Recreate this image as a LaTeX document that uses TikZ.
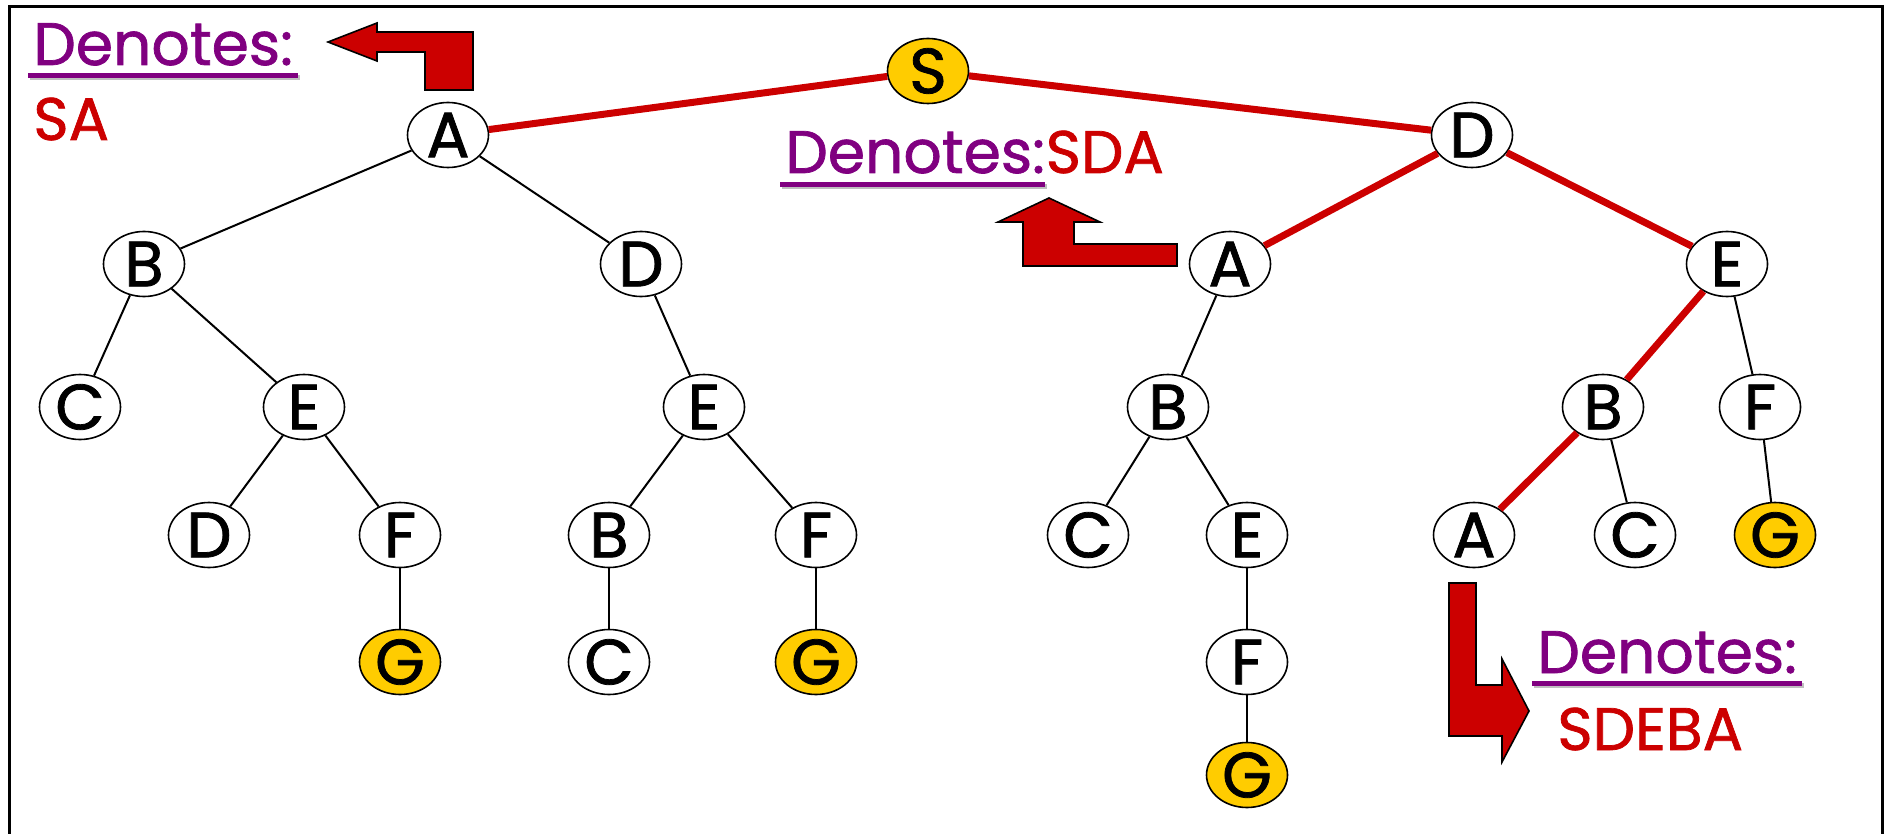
\documentclass[tikz,border=0pt]{standalone}
\usepackage{fontspec}
\setmainfont{Poppins}[FakeBold=1.2]
\usetikzlibrary{shapes.geometric}
\definecolor{pathred}{HTML}{CC0000}
\definecolor{goldfill}{HTML}{FFCC00}
\definecolor{notepurple}{HTML}{800080}

\begin{document}
\begin{tikzpicture}[x=0.5pt,y=-0.5pt,
	st/.style={ellipse,draw,line width=0.8pt,fill=white,minimum width=40.5pt,minimum height=32.5pt,inner sep=0pt,font=\fontsize{32}{32}\selectfont},
	goal/.style={st,fill=goldfill},
	edge/.style={line width=1pt},
	solpath/.style={line width=3.5pt,pathred},
	note/.style={anchor=base west,inner sep=0pt,font=\fontsize{30}{30}\selectfont},
	ul/.style={notepurple,line width=2.5pt},
	ulshade/.style={black!25,line width=2.5pt},
	turn/.style={fill=pathred,draw=black,line width=0.8pt,line join=miter}]
	\useasboundingbox (0,0) rectangle (1888,834);
	\draw[line width=1.5pt] (9,834) -- (9,7) -- (1882,7) -- (1882,834);
	% search tree
	\node[goal] (s) at (928,71){S};
	\node[st] (a) at (448,135){A};
	\node[st] (d) at (1472,135){D};
	\node[st] (ab) at (144,264){B};
	\node[st] (ad) at (641,264){D};
	\node[st] (da) at (1230,264){A};
	\node[st] (de) at (1727,264){E};
	\node[st] (abc) at (80,407){C};
	\node[st] (abe) at (304,407){E};
	\node[st] (ade) at (704,407){E};
	\node[st] (dab) at (1168,407){B};
	\node[st] (deb) at (1603,407){B};
	\node[st] (def) at (1760,407){F};
	\node[st] (abed) at (209,535){D};
	\node[st] (abef) at (400,535){F};
	\node[st] (adeb) at (609,535){B};
	\node[st] (adef) at (816,535){F};
	\node[st] (dabc) at (1088,535){C};
	\node[st] (dabe) at (1247,535){E};
	\node[st] (deba) at (1474,535){A};
	\node[st] (debc) at (1635,535){C};
	\node[goal] (defg) at (1775,535){G};
	\node[goal] (abefg) at (400,662){G};
	\node[st] (adebc) at (609,662){C};
	\node[goal] (adefg) at (816,662){G};
	\node[st] (dabef) at (1247,662){F};
	\node[goal] (dabefg) at (1247,775){G};
	\draw[solpath] (s) -- (a);
	\draw[solpath] (s) -- (d);
	\draw[solpath] (d) -- (da);
	\draw[solpath] (d) -- (de);
	\draw[solpath] (de) -- (deb);
	\draw[solpath] (deb) -- (deba);
	\draw[edge] (a) -- (ab);
	\draw[edge] (a) -- (ad);
	\draw[edge] (ab) -- (abc);
	\draw[edge] (ab) -- (abe);
	\draw[edge] (abe) -- (abed);
	\draw[edge] (abe) -- (abef);
	\draw[edge] (abef) -- (abefg);
	\draw[edge] (ad) -- (ade);
	\draw[edge] (ade) -- (adeb);
	\draw[edge] (ade) -- (adef);
	\draw[edge] (adeb) -- (adebc);
	\draw[edge] (adef) -- (adefg);
	\draw[edge] (da) -- (dab);
	\draw[edge] (dab) -- (dabc);
	\draw[edge] (dab) -- (dabe);
	\draw[edge] (dabe) -- (dabef);
	\draw[edge] (dabef) -- (dabefg);
	\draw[edge] (de) -- (def);
	\draw[edge] (deb) -- (debc);
	\draw[edge] (def) -- (defg);
	% labels
	\node[note,text=notepurple] (den1) at (33,65){Denotes:};
	\node[note,text=pathred] (sa) at (33,140){SA};
	\node[note,text=notepurple] (den2) at (785,173){Denotes:};
	\node[note,text=pathred] (sda) at (den2.base east){SDA};
	\node[note,text=notepurple] (den3) at (1537,673){Denotes:};
	\node[note,text=pathred] (sdeba) at (1557,750){SDEBA};
	\draw[ulshade] ([xshift=-1.5pt,yshift=-6.5pt]den1.base west) -- ([xshift=3.5pt,yshift=-6.5pt]den1.base east);
	\draw[ul] ([xshift=-2.5pt,yshift=-5.5pt]den1.base west) -- ([xshift=2.5pt,yshift=-5.5pt]den1.base east);
	\draw[ulshade] ([xshift=-1.5pt,yshift=-7pt]den2.base west) -- ([xshift=1pt,yshift=-7pt]den2.base east);
	\draw[ul] ([xshift=-2.5pt,yshift=-6pt]den2.base west) -- ([yshift=-6pt]den2.base east);
	\draw[ulshade] ([xshift=-1.5pt,yshift=-6pt]den3.base west) -- ([xshift=3.5pt,yshift=-6pt]den3.base east);
	\draw[ul] ([xshift=-2.5pt,yshift=-5pt]den3.base west) -- ([xshift=2.5pt,yshift=-5pt]den3.base east);
	% bent arrows
	\draw[turn] (328,42) -- (377,23) -- (377,32) -- (473,32) -- (473,90) -- (425,90) -- (425,52) -- (377,52) -- (377,61) -- cycle;
	\draw[turn] (1049,198) -- (1100,222) -- (1074,222) -- (1074,244) -- (1177,244) -- (1177,266) -- (1023,266) -- (1023,222) -- (998,222) -- cycle;
	\draw[turn] (1449,583) -- (1476,583) -- (1476,685) -- (1502,685) -- (1502,659) -- (1529,711) -- (1502,762) -- (1502,736) -- (1449,736) -- cycle;
\end{tikzpicture}
\end{document}
